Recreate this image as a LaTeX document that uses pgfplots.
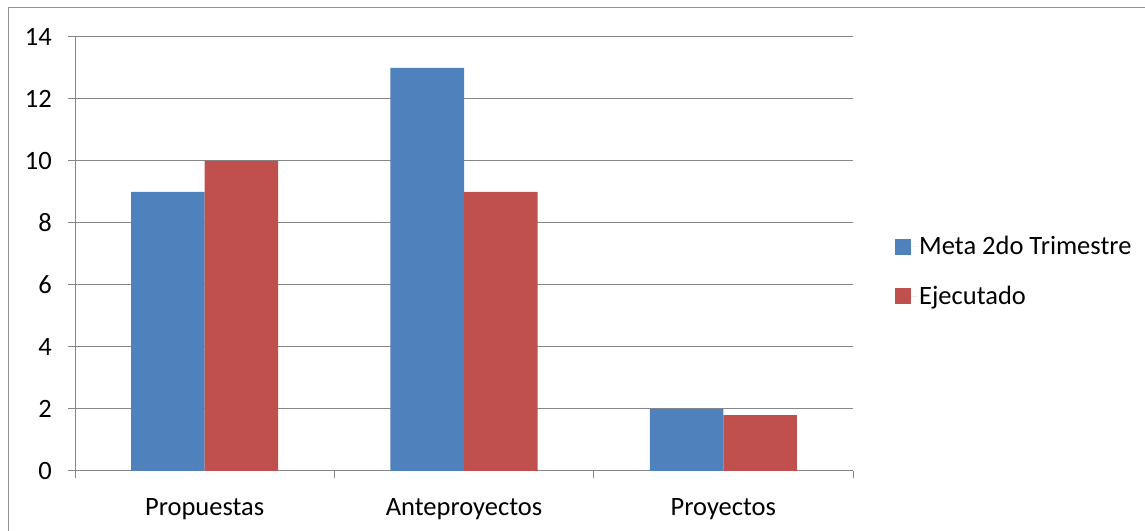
\documentclass[border=0pt]{standalone}
\usepackage{pgfplots}
\pgfplotsset{compat=1.18}
\usepackage{fontspec}
\setmainfont{Carlito}
\definecolor{cblue}{HTML}{4F81BD}
\definecolor{cred}{HTML}{C0504D}
\definecolor{cgrid}{HTML}{868686}
\begin{document}
\begin{tikzpicture}[x=1bp,y=1bp]
\useasboundingbox (0,0) rectangle (1145,531);
\path[fill=white] (0,0) rectangle (1145,531);
\draw[cgrid!90, line width=1.5bp] (8.5,0) -- (8.5,523.5) -- (1145,523.5);
\begin{axis}[
  at={(75bp,60bp)}, anchor=south west,
  scale only axis, width=778bp, height=434bp,
  xmin=-0.5, xmax=2.5, ymin=0, ymax=14,
  axis lines*=left,
  axis line style={cgrid, line width=1bp},
  ytick={0,2,...,14},
  ymajorgrids, grid style={cgrid, line width=1bp},
  xtick={0,1,2},
  xticklabels={Propuestas,Anteproyectos,Proyectos},
  minor xtick={-0.5,0.5,1.5,2.5},
  major x tick style={draw=none},
  tick align=outside,
  minor tick length=7bp,
  major tick length=7bp,
  minor x tick style={cgrid, line width=1bp},
  ytick style={cgrid, line width=1bp},
  yticklabel style={xshift=-16bp, inner sep=0pt, anchor=east},
  xticklabel style={inner sep=0pt, anchor=north, yshift=-20bp},
  /pgf/number format/assume math mode=true,
  ticklabel style={font=\fontsize{26.5bp}{31bp}\selectfont},
  ybar, bar width=0.2835,
  legend style={at={(1.054,0.4597)}, anchor=west, draw=none, fill=none,
    font=\fontsize{26.5bp}{31bp}\selectfont, row sep=26bp, inner sep=0pt},
  legend cell align=left,
  legend image code/.code={\fill[#1] (0bp,-8bp) rectangle (16bp,8bp); \path (0bp,0bp) -- (22bp,0bp);},
  clip=false,
]
\addplot[fill=cblue, draw=none, bar shift=-0.14175] coordinates {(0,9) (1,13) (2,2)};
\addplot[fill=cred, draw=none, bar shift=0.14175] coordinates {(0,10) (1,9) (2,1.8)};
\legend{Meta 2do Trimestre, Ejecutado}
\end{axis}
\end{tikzpicture}
\end{document}
